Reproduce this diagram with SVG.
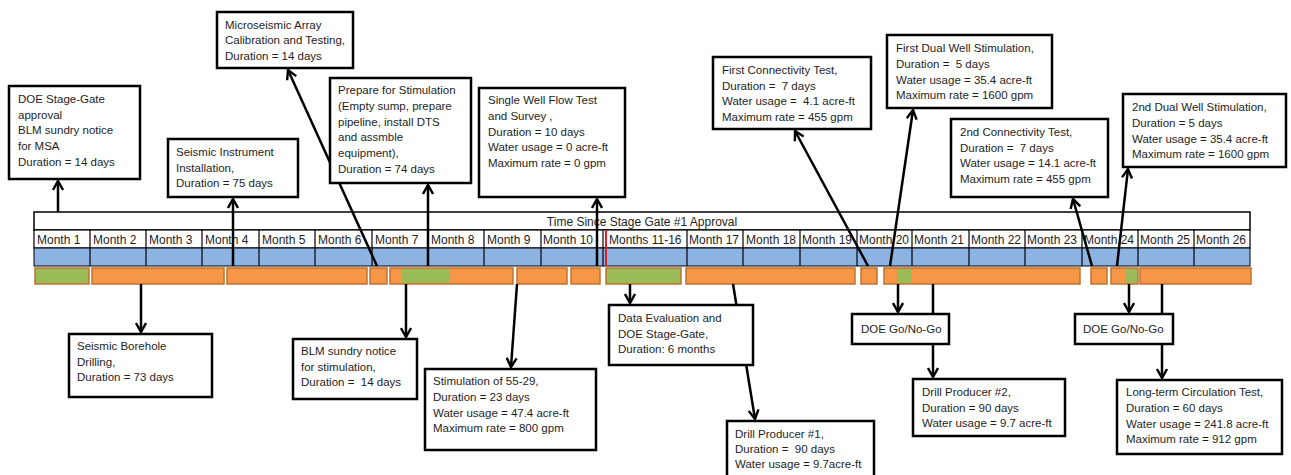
<svg xmlns="http://www.w3.org/2000/svg" width="1291" height="475" viewBox="0 0 1291 475">
<style>
.t{font-family:"Liberation Sans",Arial,sans-serif;font-size:11.5px;fill:#1e1e1e;white-space:pre}
.m{font-family:"Liberation Sans",Arial,sans-serif;font-size:12px;fill:#1e1e1e;white-space:pre}
.box{fill:#fff;stroke:#000;stroke-width:2.5}
.conn{stroke:#000;stroke-width:2.5;fill:none;marker-end:url(#ah)}
.or{fill:#f79646;stroke:#c0732f;stroke-width:1.5}
.gr{fill:#9bbb59;stroke:#c0732f;stroke-width:1.5}
.gi{fill:#9bbb59;stroke:none}
.div{stroke:#000;stroke-width:1.2}
</style>
<defs>
<marker id="ah" viewBox="0 0 12 12" refX="10.5" refY="6" markerWidth="12" markerHeight="12" markerUnits="userSpaceOnUse" orient="auto">
<path d="M1.5,1 L10.5,6 L1.5,11" fill="none" stroke="#000" stroke-width="2.4"/>
</marker>
</defs>
<rect width="1291" height="475" fill="#fff"/>
<g id="timeline">
<rect x="34" y="212" width="1216" height="18" fill="#fff" stroke="#000" stroke-width="1.5"/>
<text class="m" x="642" y="226" text-anchor="middle">Time Since Stage Gate #1 Approval</text>
<rect x="34" y="230" width="1216" height="18" fill="#fff" stroke="#000" stroke-width="1.2"/>
<rect x="34" y="248" width="1216" height="18" fill="#8db3e2" stroke="#000" stroke-width="1"/>
<g class="div">
<line x1="90" y1="230" x2="90" y2="266"/><line x1="146" y1="230" x2="146" y2="266"/><line x1="202" y1="230" x2="202" y2="266"/><line x1="259" y1="230" x2="259" y2="266"/><line x1="315" y1="230" x2="315" y2="266"/><line x1="372" y1="230" x2="372" y2="266"/><line x1="428" y1="230" x2="428" y2="266"/><line x1="484" y1="230" x2="484" y2="266"/><line x1="541" y1="230" x2="541" y2="266"/><line x1="603" y1="230" x2="603" y2="266"/><line x1="687" y1="230" x2="687" y2="266"/><line x1="743" y1="230" x2="743" y2="266"/><line x1="800" y1="230" x2="800" y2="266"/><line x1="857" y1="230" x2="857" y2="266"/><line x1="912" y1="230" x2="912" y2="266"/><line x1="969" y1="230" x2="969" y2="266"/><line x1="1025" y1="230" x2="1025" y2="266"/><line x1="1082" y1="230" x2="1082" y2="266"/><line x1="1138" y1="230" x2="1138" y2="266"/><line x1="1194" y1="230" x2="1194" y2="266"/>
</g>
<g class="m">
<text x="37" y="244">Month 1</text><text x="93" y="244">Month 2</text><text x="149" y="244">Month 3</text><text x="205" y="244">Month 4</text><text x="262" y="244">Month 5</text><text x="318" y="244">Month 6</text><text x="375" y="244">Month 7</text><text x="431" y="244">Month 8</text><text x="487" y="244">Month 9</text><text x="543" y="244">Month 10</text><text x="609" y="244">Months 11-16</text><text x="689" y="244">Month 17</text><text x="746" y="244">Month 18</text><text x="802" y="244">Month 19</text><text x="859" y="244">Month 20</text><text x="914" y="244">Month 21</text><text x="971" y="244">Month 22</text><text x="1027" y="244">Month 23</text><text x="1084" y="244">Month 24</text><text x="1140" y="244">Month 25</text><text x="1196" y="244">Month 26</text>
</g>
<line x1="606" y1="230" x2="606" y2="266" stroke="#e02020" stroke-width="2"/>
<rect class="gr" x="35" y="268" width="54" height="16"/>
<rect class="or" x="92" y="268" width="132" height="16"/>
<rect class="or" x="227" y="268" width="140" height="16"/>
<rect class="or" x="370" y="268" width="17" height="16"/>
<rect class="or" x="390" y="268" width="123" height="16"/>
<rect class="gi" x="402" y="269" width="48" height="14"/>
<rect class="or" x="517" y="268" width="50" height="16"/>
<rect class="or" x="571" y="268" width="29" height="16"/>
<rect class="gr" x="606" y="268" width="75" height="16"/>
<rect class="or" x="686" y="268" width="169" height="16"/>
<rect class="or" x="861" y="268" width="16" height="16"/>
<rect class="or" x="884" y="268" width="196" height="16"/>
<rect class="gi" x="897" y="269" width="14" height="14"/>
<rect class="or" x="1091" y="268" width="16" height="16"/>
<rect class="or" x="1111" y="268" width="27" height="16"/>
<rect class="gi" x="1125" y="269" width="12" height="14"/>
<rect class="or" x="1140" y="268" width="111" height="16"/>
</g>
<g id="connectors">
<line class="conn" x1="58" y1="212" x2="58" y2="181"/>
<line class="conn" x1="233" y1="266" x2="233" y2="199"/>
<line class="conn" x1="377" y1="266" x2="288" y2="70"/>
<line class="conn" x1="428" y1="266" x2="428" y2="185"/>
<line class="conn" x1="597" y1="266" x2="597" y2="199"/>
<line class="conn" x1="868" y1="266" x2="795" y2="131"/>
<line class="conn" x1="890" y1="266" x2="913" y2="110"/>
<line class="conn" x1="1092" y1="266" x2="1073" y2="199"/>
<line class="conn" x1="1117" y1="266" x2="1128" y2="169"/>
<line class="conn" x1="141" y1="284" x2="141" y2="332"/>
<line class="conn" x1="406" y1="284" x2="406" y2="337"/>
<line class="conn" x1="517" y1="284" x2="511" y2="367"/>
<line class="conn" x1="630" y1="284" x2="630" y2="303"/>
<line class="conn" x1="733" y1="284" x2="755" y2="419"/>
<line class="conn" x1="898" y1="284" x2="898" y2="312"/>
<line class="conn" x1="933" y1="284" x2="933" y2="377"/>
<line class="conn" x1="1129" y1="284" x2="1129" y2="312"/>
<line class="conn" x1="1162" y1="284" x2="1162" y2="378"/>
</g>
<g id="n-doe-stage-gate"><rect class="box" x="9" y="86" width="131" height="93"/><text class="t" x="18" y="103">DOE Stage-Gate</text><text class="t" x="18" y="119">approval</text><text class="t" x="18" y="134">BLM sundry notice</text><text class="t" x="18" y="150">for MSA</text><text class="t" x="18" y="166">Duration = 14 days</text></g>
<g id="n-microseismic"><rect class="box" x="217" y="12" width="136" height="56"/><text class="t" x="225" y="28.5">Microseismic Array</text><text class="t" x="225" y="44">Calibration and Testing,</text><text class="t" x="225" y="60">Duration = 14 days</text></g>
<g id="n-seismic-instrument"><rect class="box" x="168" y="139" width="130" height="58"/><text class="t" x="176" y="156">Seismic Instrument</text><text class="t" x="176" y="172">Installation,</text><text class="t" x="176" y="187">Duration = 75 days</text></g>
<g id="n-prepare"><rect class="box" x="330" y="78" width="141" height="105"/><text class="t" x="338" y="94">Prepare for Stimulation</text><text class="t" x="338" y="110">(Empty sump, prepare</text><text class="t" x="338" y="126">pipeline, install DTS</text><text class="t" x="338" y="141">and assmble</text><text class="t" x="338" y="157">equipment),</text><text class="t" x="338" y="173">Duration = 74 days</text></g>
<g id="n-single-well"><rect class="box" x="479" y="88" width="146" height="109"/><text class="t" x="488" y="104">Single Well Flow Test</text><text class="t" x="488" y="120">and Survey ,</text><text class="t" x="488" y="136">Duration = 10 days</text><text class="t" x="488" y="151">Water usage = 0 acre-ft</text><text class="t" x="488" y="167">Maximum rate = 0 gpm</text></g>
<g id="n-first-conn"><rect class="box" x="713" y="57" width="158" height="72"/><text class="t" x="722" y="74">First Connectivity Test,</text><text class="t" x="722" y="90">Duration =  7 days</text><text class="t" x="722" y="105">Water usage =  4.1 acre-ft</text><text class="t" x="722" y="121">Maximum rate = 455 gpm</text></g>
<g id="n-first-dual"><rect class="box" x="887" y="35" width="165" height="73"/><text class="t" x="896" y="52">First Dual Well Stimulation,</text><text class="t" x="896" y="68">Duration =  5 days</text><text class="t" x="896" y="84">Water usage = 35.4 acre-ft</text><text class="t" x="896" y="99">Maximum rate = 1600 gpm</text></g>
<g id="n-second-conn"><rect class="box" x="951" y="119" width="157" height="78"/><text class="t" x="960" y="136">2nd Connectivity Test,</text><text class="t" x="960" y="152">Duration =  7 days</text><text class="t" x="960" y="167">Water usage = 14.1 acre-ft</text><text class="t" x="960" y="183">Maximum rate = 455 gpm</text></g>
<g id="n-second-dual"><rect class="box" x="1123" y="94" width="163" height="73"/><text class="t" x="1132" y="111">2nd Dual Well Stimulation,</text><text class="t" x="1132" y="127">Duration = 5 days</text><text class="t" x="1132" y="143">Water usage = 35.4 acre-ft</text><text class="t" x="1132" y="158">Maximum rate = 1600 gpm</text></g>
<g id="n-borehole"><rect class="box" x="69" y="334" width="143" height="63"/><text class="t" x="77" y="350">Seismic Borehole</text><text class="t" x="77" y="366">Drilling,</text><text class="t" x="77" y="381">Duration = 73 days</text></g>
<g id="n-blm-stim"><rect class="box" x="293" y="339" width="124" height="60"/><text class="t" x="301" y="355">BLM sundry notice</text><text class="t" x="301" y="371">for stimulation,</text><text class="t" x="301" y="386">Duration =  14 days</text></g>
<g id="n-stim-5529"><rect class="box" x="425" y="369" width="171" height="81"/><text class="t" x="433" y="385">Stimulation of 55-29,</text><text class="t" x="433" y="401">Duration = 23 days</text><text class="t" x="433" y="417">Water usage = 47.4 acre-ft</text><text class="t" x="433" y="432">Maximum rate = 800 gpm</text></g>
<g id="n-data-eval"><rect class="box" x="609" y="305" width="144" height="60"/><text class="t" x="618" y="322">Data Evaluation and</text><text class="t" x="618" y="338">DOE Stage-Gate,</text><text class="t" x="618" y="353">Duration: 6 months</text></g>
<g id="n-drill1"><rect class="box" x="727" y="421" width="147" height="70"/><text class="t" x="735" y="438">Drill Producer #1,</text><text class="t" x="735" y="453">Duration =  90 days</text><text class="t" x="735" y="468">Water usage = 9.7acre-ft</text></g>
<g id="n-gonogo1"><rect class="box" x="852" y="314" width="97" height="30"/><text class="t" x="861" y="333">DOE Go/No-Go</text></g>
<g id="n-drill2"><rect class="box" x="913" y="379" width="152" height="57"/><text class="t" x="922" y="396">Drill Producer #2,</text><text class="t" x="922" y="412">Duration = 90 days</text><text class="t" x="922" y="427">Water usage = 9.7 acre-ft</text></g>
<g id="n-gonogo2"><rect class="box" x="1075" y="314" width="98" height="30"/><text class="t" x="1083" y="333">DOE Go/No-Go</text></g>
<g id="n-longterm"><rect class="box" x="1117" y="380" width="165" height="74"/><text class="t" x="1126" y="396">Long-term Circulation Test,</text><text class="t" x="1126" y="412">Duration = 60 days</text><text class="t" x="1126" y="428">Water usage = 241.8 acre-ft</text><text class="t" x="1126" y="443">Maximum rate = 912 gpm</text></g>
</svg>
